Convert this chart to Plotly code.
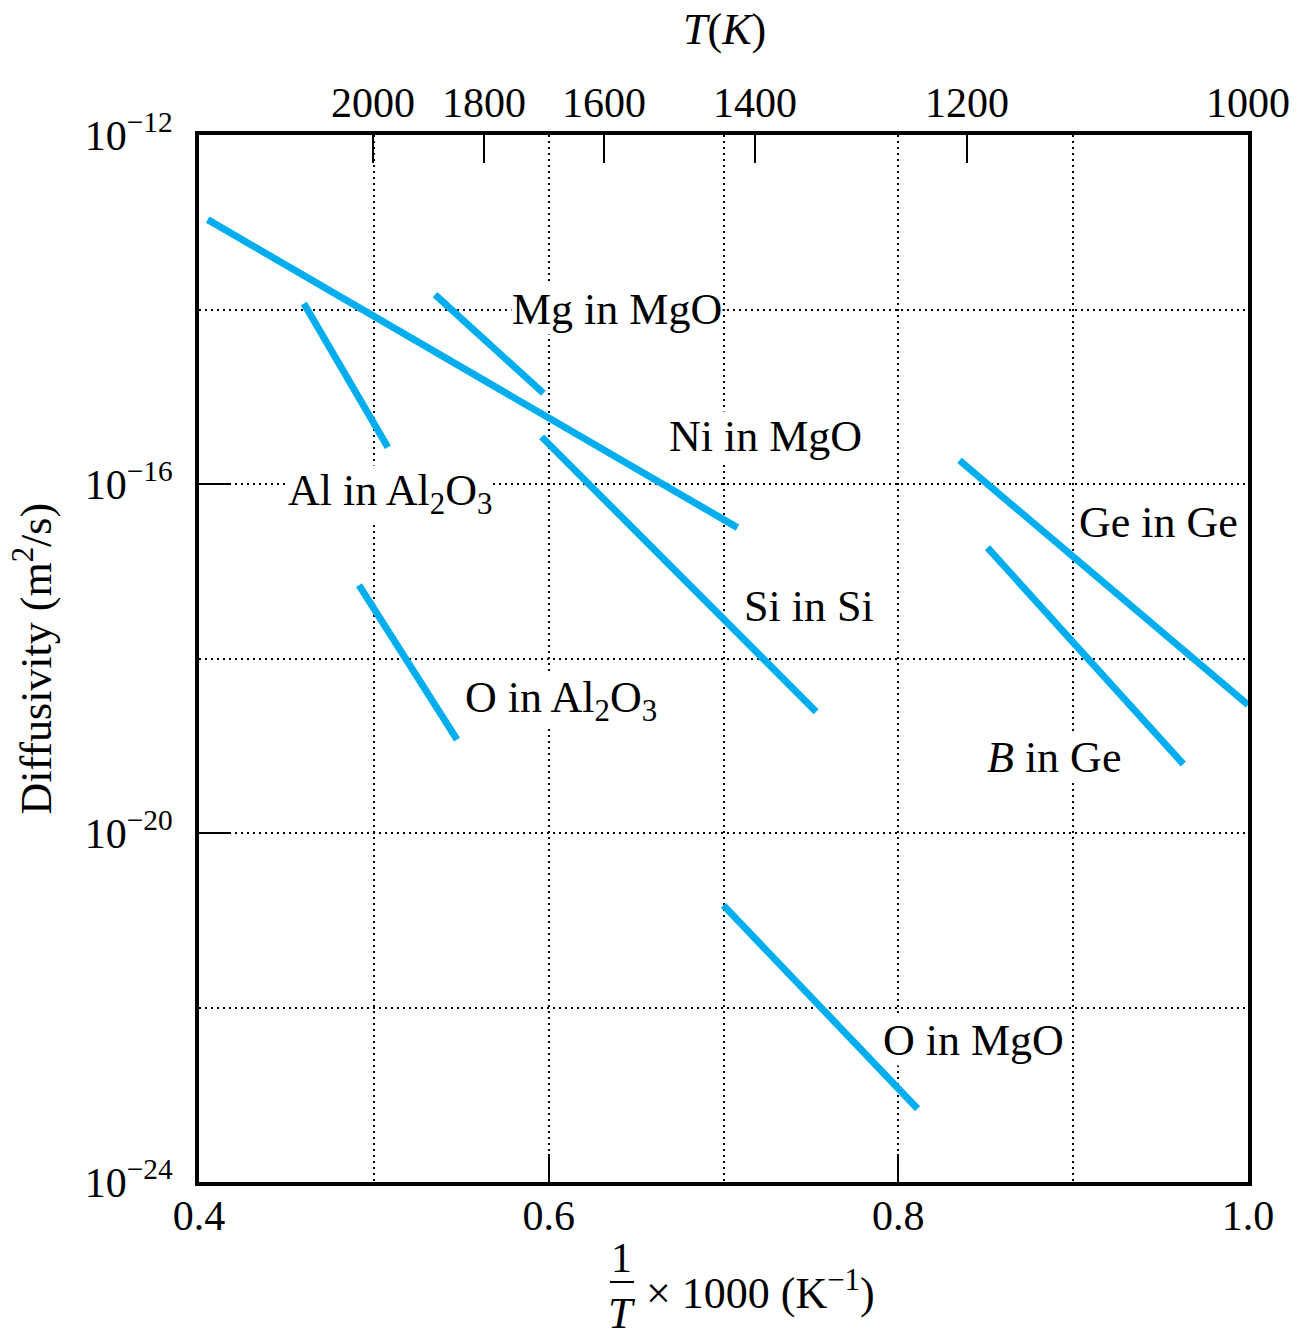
import plotly.graph_objects as go

# ---- data ----
series = ["Ni in MgO", "Al in Al2O3", "Mg in MgO", "Si in Si",
          "O in Al2O3", "Ge in Ge", "B in Ge", "O in MgO"]
x_start = [0.405, 0.460, 0.535, 0.596, 0.4915, 0.835, 0.851, 0.700]
x_end = [0.708, 0.508, 0.597, 0.753, 0.5476, 1.000, 0.963, 0.811]
logD_start = [-12.97, -13.93, -13.83, -15.46, -17.16, -15.73, -16.73, -20.83]
logD_end = [-16.50, -15.58, -14.96, -18.61, -18.93, -18.53, -19.21, -23.16]

label_text = ["Mg in MgO", "Ni in MgO", "Al in Al<sub>2</sub>O<sub>3</sub>", "Ge in Ge",
              "Si in Si", "O in Al<sub>2</sub>O<sub>3</sub>", "<i>B</i> in Ge", "O in MgO"]
label_x = [0.639, 0.724, 0.509, 0.949, 0.749, 0.607, 0.889, 0.843]
label_logD = [-14.00, -15.46, -16.11, -16.44, -17.40, -18.48, -19.13, -22.38]

x_ticks = [0.4, 0.6, 0.8, 1.0]
x_ticktext = ["0.4", "0.6", "0.8", "1.0"]
x_minor = [0.5, 0.7, 0.9]
y_ticks = [1e-12, 1e-16, 1e-20, 1e-24]
y_ticktext = ["10<sup>\u221212</sup>", "10<sup>\u221216</sup>",
              "10<sup>\u221220</sup>", "10<sup>\u221224</sup>"]
y_minor = [1e-14, 1e-18, 1e-22]
temps = [2000, 1800, 1600, 1400, 1200, 1000]
temp_pos = [0.4995, 0.563, 0.6317, 0.718, 0.8393, 1.0]

LINE = "#00AEEF"
FONT = "Liberation Serif"
GRID = dict(showgrid=True, gridcolor="black", gridwidth=2, griddash="2px,4px")

fig = go.Figure()
for name, xs, xe, ys, ye in zip(series, x_start, x_end, logD_start, logD_end):
    fig.add_trace(go.Scatter(x=[xs, xe], y=[10 ** ys, 10 ** ye], mode="lines",
                             line=dict(color=LINE, width=7), name=name,
                             hoverinfo="name"))
# carrier trace for top temperature axis
fig.add_trace(go.Scatter(x=[0.4, 1.0], y=[1e-24, 1e-12], mode="lines",
                         line=dict(width=0), xaxis="x2", yaxis="y",
                         hoverinfo="skip", showlegend=False))

fig.update_layout(
    width=1307, height=1341,
    margin=dict(l=199, r=59, t=135, b=159),
    plot_bgcolor="white", paper_bgcolor="white",
    showlegend=False,
    font=dict(family=FONT, size=42, color="black"),
    xaxis=dict(range=[0.4, 1.0], tickmode="array", tickvals=x_ticks, ticktext=x_ticktext,
               ticks="inside", ticklen=28, tickwidth=2, tickcolor="black",
               showline=True, linewidth=4, linecolor="black", mirror=True,
               zeroline=False, ticklabelstandoff=-6,
               tickfont=dict(family=FONT, size=42),
               minor=dict(tickmode="array", tickvals=x_minor, ticks="", **GRID),
               **GRID),
    xaxis2=dict(range=[0.4, 1.0], overlaying="x", side="top", tickmode="array",
                tickvals=temp_pos, ticktext=[str(t) for t in temps],
                ticks="inside", ticklen=28, tickwidth=2, tickcolor="black",
                showline=False, showgrid=False, zeroline=False, ticklabelstandoff=9,
                tickfont=dict(family=FONT, size=42)),
    yaxis=dict(type="log", range=[-24, -12], tickmode="array", tickvals=y_ticks,
               ticktext=y_ticktext, ticks="inside", ticklen=30, tickwidth=2,
               tickcolor="black", showline=True, linewidth=4, linecolor="black",
               mirror=True, zeroline=False, ticklabelstandoff=14,
               tickfont=dict(family=FONT, size=42),
               minor=dict(tickmode="array", tickvals=y_minor, ticks="", **GRID),
               **GRID),
)

for t, lx, ly in zip(label_text, label_x, label_logD):
    fig.add_annotation(x=lx, y=ly, xref="x", yref="y", text=t, showarrow=False,
                       font=dict(family=FONT, size=44, color="black"),
                       bgcolor="white", borderpad=0, xanchor="center", yanchor="middle")

def px(xp):
    return (xp - 199) / 1049

def py(yp):
    return (1182 - yp) / 1047

# axis titles
fig.add_annotation(x=px(33), y=0.5, xref="paper", yref="paper", showarrow=False,
                   text="Diffusivity (m<sup>2</sup>/s)", textangle=-90,
                   font=dict(family=FONT, size=44), xanchor="center", yanchor="middle")
fig.add_annotation(x=px(724), y=py(30), xref="paper", yref="paper", showarrow=False,
                   text="<i>T</i>(<i>K</i>)", font=dict(family=FONT, size=44),
                   xanchor="center", yanchor="middle")
fig.add_annotation(x=px(621), y=py(1258), xref="paper", yref="paper", showarrow=False,
                   text="1", font=dict(family=FONT, size=42),
                   xanchor="center", yanchor="middle")
fig.add_annotation(x=px(622), y=py(1313), xref="paper", yref="paper", showarrow=False,
                   text="<i>T</i>", font=dict(family=FONT, size=44),
                   xanchor="center", yanchor="middle")
fig.add_shape(type="line", xref="paper", yref="paper", x0=px(610), x1=px(634),
              y0=py(1282), y1=py(1282), line=dict(color="black", width=2))
fig.add_annotation(x=px(644), y=py(1290), xref="paper", yref="paper", showarrow=False,
                   text="\u00d7 1000 (K<sup>\u22121</sup>)", font=dict(family=FONT, size=44),
                   xanchor="left", yanchor="middle")

fig.write_html("out.html")
